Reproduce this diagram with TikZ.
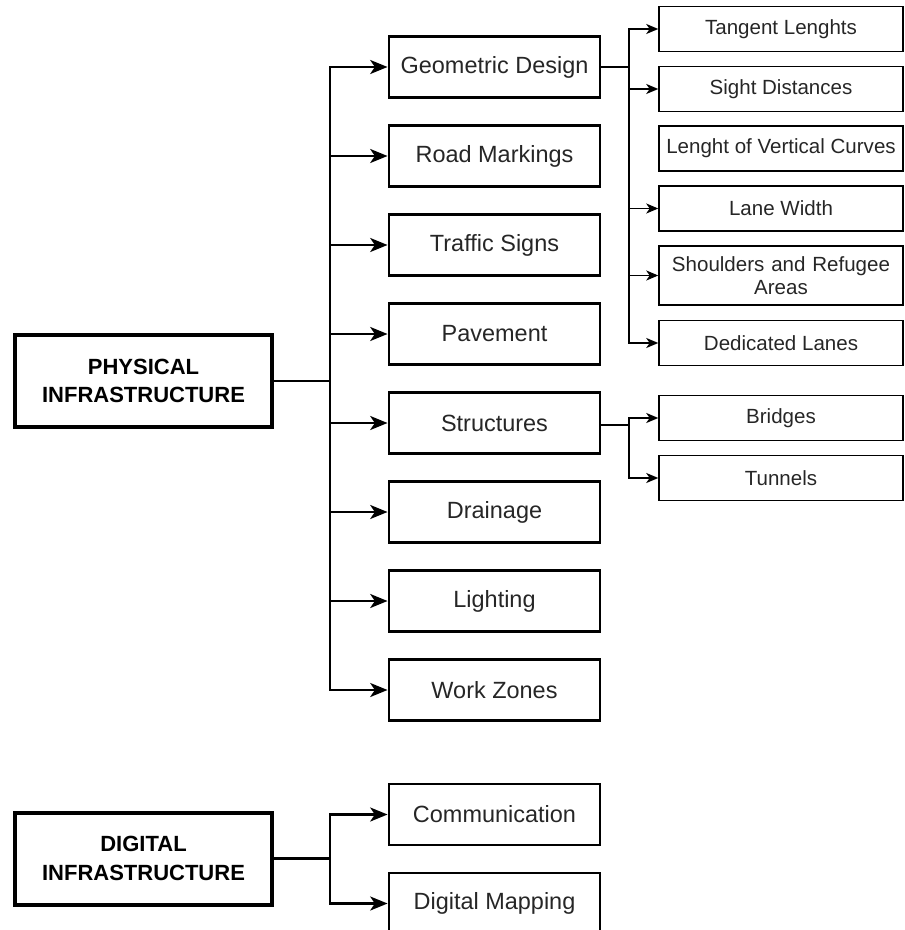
\documentclass[tikz,border=0pt]{standalone}
\usepackage{fontspec}
\setmainfont{Liberation Sans}
\usepackage{tikz}
\usetikzlibrary{arrows.meta, positioning, calc}

\begin{document}
\begin{tikzpicture}[x=0.75pt, y=-0.75pt,
  rootbox/.style={draw, line width=3pt, minimum width=192.75pt, minimum height=69pt, align=center, font=\fontsize{16.5}{21.5}\selectfont\bfseries, inner sep=0pt},
  midbox/.style={draw, line width=2.2pt, minimum width=158.25pt, minimum height=45.75pt, align=center, font=\fontsize{17.6}{20}\selectfont, text=black!85, inner sep=0pt},
  leafbox/.style={draw, line width=1.1pt, minimum width=183pt, minimum height=33.75pt, align=center, font=\fontsize{15.4}{17.5}\selectfont, text=black!85, inner sep=0pt},
  mainline/.style={line width=1.9pt},
  mainarrow/.style={line width=1.9pt, -{Stealth[length=13pt, width=10.5pt, inset=3.5pt]}},
  leafline/.style={line width=1.1pt},
  leafarrow/.style={line width=1.1pt, -{Stealth[length=9pt, width=7.5pt, inset=2.5pt]}}]
  \useasboundingbox (0,0) rectangle (904,930);

  % Root nodes
  \node[rootbox] (phys) at (143.5, 381) {PHYSICAL\\INFRASTRUCTURE};
  \node[rootbox] (digi) at (143.5, 858.5) {DIGITAL\\INFRASTRUCTURE};

  % Physical elements
  \node[midbox] (geo) at (494.5, 67) {Geometric Design};
  \node[midbox] (mark) at (494.5, 156) {Road Markings};
  \node[midbox] (sign) at (494.5, 245) {Traffic Signs};
  \node[midbox] (pave) at (494.5, 334) {Pavement};
  \node[midbox] (struc) at (494.5, 423) {Structures};
  \node[midbox] (drain) at (494.5, 512) {Drainage};
  \node[midbox] (light) at (494.5, 601) {Lighting};
  \node[midbox] (work) at (494.5, 690) {Work Zones};

  % Digital elements
  \node[midbox] (comm) at (494.5, 814.5) {Communication};
  \node[midbox] (dmap) at (494.5, 903.5) {Digital Mapping};

  % Geometric design details
  \node[leafbox] (tang) at (781, 29) {Tangent Lenghts};
  \node[leafbox] (sight) at (781, 89) {Sight Distances};
  \node[leafbox] (vert) at (781, 148.5) {Lenght of Vertical Curves};
  \node[leafbox] (lane) at (781, 208.5) {Lane Width};
  \node[leafbox, minimum height=44.25pt, text width=175pt] (shoul) at (781, 275.5) {Shoulders and Refugee\\Areas};
  \node[leafbox] (ded) at (781, 343) {Dedicated Lanes};

  % Structures details
  \node[leafbox] (brid) at (781, 418) {Bridges};
  \node[leafbox] (tunn) at (781, 478) {Tunnels};

  % Physical tree
  \coordinate (pj) at (330, 381);
  \draw[mainline] (phys.east) -- (pj);
  \foreach \n in {geo, mark, sign, pave, struc, drain, light, work}
    \draw[mainarrow] (pj) |- (\n.west);

  % Digital tree
  \coordinate (dj) at (330, 858.5);
  \draw[mainline] (digi.east) -- (dj);
  \foreach \n in {comm, dmap}
    \draw[mainarrow] (dj) |- (\n.west);

  % Geometric design branch
  \coordinate (gj) at (629, 67);
  \draw[leafline] (geo.east) -- (gj);
  \foreach \n in {tang, sight, lane, shoul, ded}
    \draw[leafarrow] (gj) |- (\n.west);

  % Structures branch
  \coordinate (sj) at (629, 425);
  \draw[leafline] (struc.east |- sj) -- (sj);
  \foreach \n in {brid, tunn}
    \draw[leafarrow] (sj) |- (\n.west);
\end{tikzpicture}
\end{document}
